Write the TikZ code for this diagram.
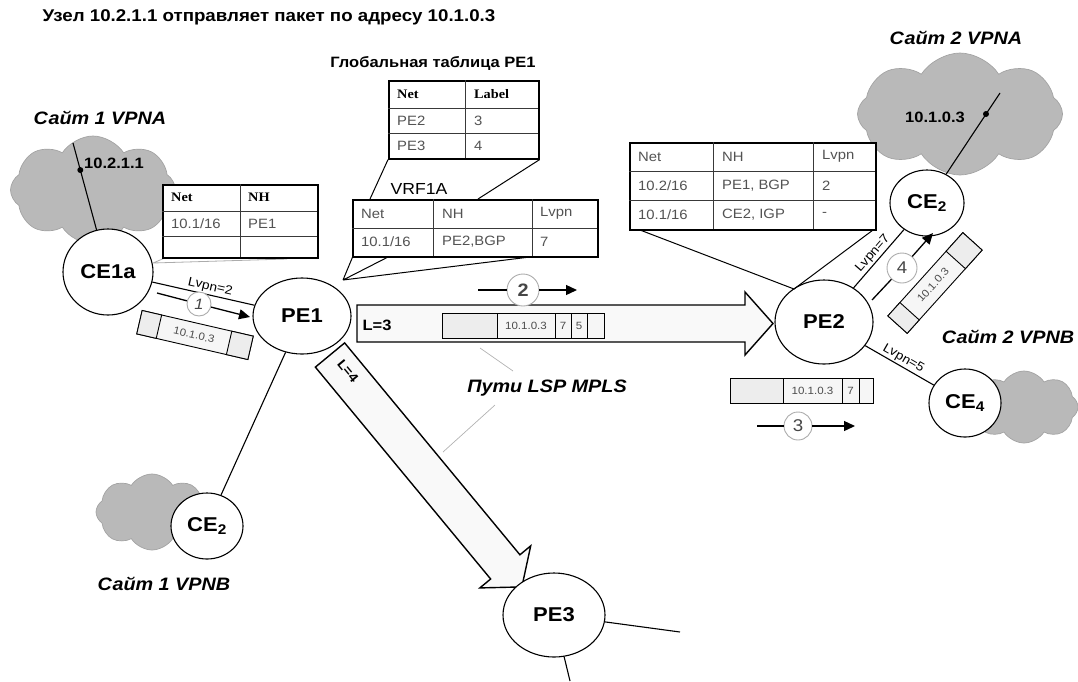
\documentclass[tikz,border=0pt]{standalone}
\usepackage{fontspec}
\setmainfont{Liberation Sans}[FakeStretch=1.1]
\newfontfamily\hdserif{Liberation Serif}[FakeStretch=1.1]
\usetikzlibrary{shapes.geometric,shapes.symbols,arrows.meta,calc}
\newcommand{\fsz}[1]{\fontsize{#1}{#1}\selectfont}

\begin{document}
\begin{tikzpicture}[x=1pt,y=-1pt,
  router/.style={ellipse,draw,line width=1.1pt,fill=white,inner sep=0pt,font=\bfseries\fsz{20}},
  sitelbl/.style={inner sep=0pt,font=\bfseries\itshape\fsz{18}},
  sitecloud/.style={cloud,cloud puffs=8,cloud puff arc=115,fill=gray!55,draw=gray!72,line width=0.7pt,inner sep=0pt},
  link/.style={line width=1.1pt},
  callout/.style={line width=1pt},
  faint/.style={gray!65,line width=0.8pt},
  leader/.style={gray!60,line width=0.7pt},
  tbl/.style={draw,line width=1.6pt,fill=white,inner sep=0pt,anchor=north west},
  rule/.style={gray!45!black,line width=0.8pt},
  cell/.style={anchor=west,inner sep=0pt,text=gray!65!black,font=\fsz{13.5}},
  hcell/.style={anchor=west,inner sep=0pt,font=\hdserif\bfseries\fsz{13}},
  pkt/.style={draw,line width=0.9pt,fill=gray!7},
  pktend/.style={draw,line width=0.9pt,fill=gray!14},
  pkttxt/.style={inner sep=0pt,text=gray!60!black,font=\fsz{10.5}},
  stepno/.style={circle,draw=gray!65,line width=0.9pt,fill=white,inner sep=0pt,text=gray!55!black},
  flow/.style={line width=1.3pt},
  flowtip/.style={line width=1.3pt,-{Triangle[length=11pt,width=10pt]}},
  lvpn/.style={inner sep=1.5pt,font=\fsz{12.5}},
  lsp/.style={draw,line width=1.4pt,fill=gray!5},
  hostdot/.style={circle,fill=black,inner sep=0pt,minimum size=6pt},
  hostlbl/.style={inner sep=0pt,font=\bfseries\fsz{15}}
]
\useasboundingbox (0,0) rectangle (1078,681);

% ---- headings -------------------------------------------------------
\node[inner sep=0pt,font=\bfseries\fsz{17}] (title) at (269,17)
  {Узел 10.2.1.1 отправляет пакет по адресу 10.1.0.3};
\node[inner sep=0pt,font=\bfseries\fsz{15}] (gtitle) at (433,63) {Глобальная таблица PE1};

% ---- customer sites -------------------------------------------------
\node[sitecloud,aspect=1.53,minimum width=165pt,minimum height=108pt] (cl1) at (93,190) {};
\node[sitecloud,aspect=1.68,minimum width=205pt,minimum height=122pt] (cl2) at (960,114) {};
\node[sitecloud,aspect=1.47,minimum width=112pt,minimum height=76pt] (cl3) at (152,512) {};
\node[sitecloud,aspect=1.5,minimum width=108pt,minimum height=72pt] (cl4) at (1024,407) {};

\node[sitelbl] (s1a) at (100,118) {Сайт 1 VPNA};
\node[sitelbl] (s2a) at (956,38) {Сайт 2 VPNA};
\node[sitelbl] (s1b) at (164,584) {Сайт 1 VPNB};
\node[sitelbl] (s2b) at (1008,337) {Сайт 2 VPNB};

% ---- LSP tunnels ----------------------------------------------------
\begin{scope}[shift={(357,323.5)}]
  \draw[lsp] (0,-18.5) -- (388,-18.5) -- (388,-31.5) -- (416,0) -- (388,31.5)
    -- (388,18.5) -- (0,18.5) -- cycle;
\end{scope}
\begin{scope}[shift={(330,355)},rotate=-50.4]
  \draw[lsp] (0,-19) -- (275,-19) -- (275,-33) -- (301,0) -- (275,33)
    -- (275,19) -- (0,19) -- cycle;
\end{scope}
\node[inner sep=0pt,font=\bfseries\fsz{15}] (l3) at (377,325) {L=3};
\node[inner sep=0pt,font=\bfseries\fsz{13},rotate=-50.4] (l4) at (348,371) {L=4};

% ---- routers --------------------------------------------------------
\node[router,minimum width=90pt,minimum height=86pt] (ce1a) at (108,272) {CE1a};
\node[router,minimum width=98pt,minimum height=76pt] (pe1) at (302,316) {PE1};
\node[router,minimum width=98pt,minimum height=84pt] (pe2) at (824,322) {PE2};
\node[router,minimum width=102pt,minimum height=84pt] (pe3) at (554,615) {PE3};
\node[router,minimum width=74pt,minimum height=66pt] (ce2a) at (927,203) {CE\textsubscript{2}};
\node[router,minimum width=72pt,minimum height=68pt] (ce4) at (965,403) {CE\textsubscript{4}};
\node[router,minimum width=72pt,minimum height=66pt] (ce2b) at (207,526) {CE\textsubscript{2}};

% ---- access links ---------------------------------------------------
\draw[link] (ce1a) -- node[lvpn,sloped,above,pos=0.55] (lv2) {Lvpn=2} (pe1);
\draw[link] (pe1) -- (ce2b);
\draw[link] (pe2) -- node[lvpn,sloped,above] (lv7) {Lvpn=7} (ce2a);
\draw[link] (pe2) -- node[lvpn,sloped,above] (lv5) {Lvpn=5} (ce4);
\coordinate (pe3r) at (680,632);
\coordinate (pe3d) at (570,681);
\draw[link] (pe3) -- (pe3r);
\draw[link] (pe3) -- (pe3d);

% ---- hosts inside the sites -----------------------------------------
\coordinate (h1) at (73,143);
\coordinate (h2) at (1000,93);
\draw[link] (ce1a) -- (h1);
\draw[link] (ce2a) -- (h2);
\node[hostdot] (d1) at (80.3,170) {};
\node[hostdot] (d2) at (986,114) {};
\node[hostlbl] (ip1) at (114,163) {10.2.1.1};
\node[hostlbl] (ip2) at (935,117) {10.1.0.3};

% ---- callouts of the routing tables ---------------------------------
\coordinate (cA) at (153,263);
\draw[faint] (cA) -- (166,257.5) (cA) -- (287,259);
\coordinate (gl) at (370,199);
\coordinate (gr) at (478,199);
\coordinate (cV) at (343,280);
\coordinate (v1) at (353,256);
\coordinate (v2) at (390,256);
\coordinate (v3) at (538,256);
\draw[callout] (cV) -- (v1) (cV) -- (v2) (cV) -- (v3);
\coordinate (cP) at (794,289);
\coordinate (q1) at (640,230);
\coordinate (q2) at (873,230);
\draw[callout] (q1) -- (cP) -- (q2);

% ---- CE1a table -----------------------------------------------------
\node[tbl,minimum width=155pt,minimum height=73pt] (tA) at (162,184) {};
\draw[rule] (162,211) -- (317,211) (162,236) -- (317,236) (240,184) -- (240,257);
\node[hcell] (tA11) at (171,197.5) {Net};
\node[hcell] (tA12) at (248,197.5) {NH};
\node[cell] (tA21) at (171,223.5) {10.1/16};
\node[cell] (tA22) at (248,223.5) {PE1};

% ---- global table of PE1 --------------------------------------------
\node[tbl,minimum width=150pt,minimum height=78pt] (tG) at (388,80) {};
\draw[callout] (tG.south west) -- (gl) (tG.south east) -- (gr);
\draw[rule] (388,108) -- (538,108) (388,133) -- (538,133) (465,80) -- (465,158);
\node[hcell] (tG11) at (397,94) {Net};
\node[hcell] (tG12) at (474,94) {Label};
\node[cell] (tG21) at (397,120.5) {PE2};
\node[cell] (tG22) at (474,120.5) {3};
\node[cell] (tG31) at (397,145.5) {PE3};
\node[cell] (tG32) at (474,145.5) {4};

% ---- VRF1A of PE1 ---------------------------------------------------
\node[inner sep=0pt,font=\fsz{16}] (vrf) at (419,189) {VRF1A};
\node[tbl,minimum width=245pt,minimum height=57pt] (tV) at (352,199) {};
\draw[rule] (352,228) -- (597,228) (433,199) -- (433,256) (532,199) -- (532,256);
\node[cell] (tV11) at (361,213.5) {Net};
\node[cell] (tV12) at (442,213.5) {NH};
\node[cell] (tV13) at (540,213.5) {Lvpn};
\node[cell] (tV21) at (361,242) {10.1/16};
\node[cell] (tV22) at (442,242) {PE2,BGP};
\node[cell] (tV23) at (540,242) {7};

% ---- VRF of PE2 -----------------------------------------------------
\node[tbl,minimum width=246pt,minimum height=87pt] (tP) at (629,142) {};
\draw[rule] (629,171) -- (875,171) (629,200) -- (875,200) (713,142) -- (713,229) (813,142) -- (813,229);
\node[cell] (tP11) at (638,156.5) {Net};
\node[cell] (tP12) at (722,156.5) {NH};
\node[cell] (tP13) at (822,156.5) {Lvpn};
\node[cell] (tP21) at (638,185.5) {10.2/16};
\node[cell] (tP22) at (722,185.5) {PE1, BGP};
\node[cell] (tP23) at (822,185.5) {2};
\node[cell] (tP31) at (638,214.5) {10.1/16};
\node[cell] (tP32) at (722,214.5) {CE2, IGP};
\node[cell] (tP33) at (822,214.5) {-};

% ---- packets --------------------------------------------------------
\begin{scope}[shift={(195,335)},rotate=-13]
  \draw[pkt] (-57,-12) rectangle (57,12);
  \draw[pktend] (-57,-12) rectangle (-37,12);
  \draw[pktend] (35,-12) rectangle (57,12);
\end{scope}
\node[pkttxt,rotate=-13] (p1) at (194,335) {10.1.0.3};

\draw[pkt] (442,313) rectangle (604,338);
\draw[pktend] (442,313) rectangle (497,338);
\draw[line width=0.9pt] (555,313) -- (555,338) (571,313) -- (571,338) (587,313) -- (587,338);
\node[pkttxt] (p2a) at (526,325.5) {10.1.0.3};
\node[pkttxt] (p2b) at (563,325.5) {7};
\node[pkttxt] (p2c) at (579,325.5) {5};

\draw[pkt] (730,378) rectangle (873,403);
\draw[pktend] (730,378) rectangle (783,403);
\draw[line width=0.9pt] (842,378) -- (842,403) (859,378) -- (859,403);
\node[pkttxt] (p3a) at (812.5,390.5) {10.1.0.3};
\node[pkttxt] (p3b) at (850.5,390.5) {7};

\begin{scope}[shift={(935,283)},rotate=48]
  \draw[pkt] (-56,-13) rectangle (56,13);
  \draw[pktend] (-56,-13) rectangle (-38,13);
  \draw[pktend] (31,-13) rectangle (56,13);
\end{scope}
\node[pkttxt,rotate=48] (p4) at (933,285) {10.1.0.3};

% ---- packet flow steps ----------------------------------------------
\node[stepno,minimum size=24pt,font=\itshape\fsz{15}] (n1) at (199,304) {1};
\node[stepno,minimum size=32pt,font=\bfseries\fsz{18}] (n2) at (523,290) {2};
\node[stepno,minimum size=28pt,font=\fsz{17}] (n3) at (798,426) {3};
\node[stepno,minimum size=30pt,font=\fsz{17}] (n4) at (902,268) {4};
\coordinate (f1s) at (157,293);
\coordinate (f1e) at (250,317);
\coordinate (f2s) at (478,290);
\coordinate (f2e) at (577,290);
\coordinate (f3s) at (757,426);
\coordinate (f3e) at (855,426);
\coordinate (f4s) at (872,300);
\coordinate (f4e) at (933,233);
\draw[flow] (f1s) -- (n1);
\draw[flowtip] (n1) -- (f1e);
\draw[flow] (f2s) -- (n2);
\draw[flowtip] (n2) -- (f2e);
\draw[flow] (f3s) -- (n3);
\draw[flowtip] (n3) -- (f3e);
\draw[flow] (f4s) -- (n4);
\draw[flowtip] (n4) -- (f4e);

% ---- LSP caption ----------------------------------------------------
\node[inner sep=0pt,font=\bfseries\itshape\fsz{18}] (lsplbl) at (547,388) {Пути LSP MPLS};
\coordinate (k1) at (480,348);
\coordinate (k2) at (513,371);
\coordinate (k3) at (495,405);
\coordinate (k4) at (443,452);
\draw[leader] (k1) -- (k2);
\draw[leader] (k3) -- (k4);
\end{tikzpicture}
\end{document}
